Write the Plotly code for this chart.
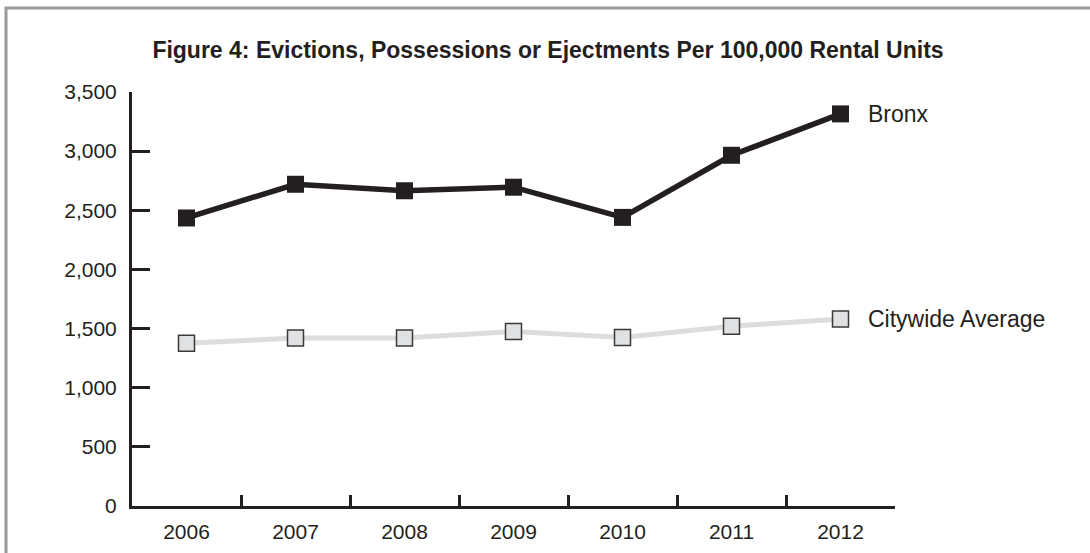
import plotly.graph_objects as go

years = ["2006", "2007", "2008", "2009", "2010", "2011", "2012"]
bronx = [2435, 2720, 2665, 2695, 2440, 2965, 3315]
citywide = [1375, 1420, 1420, 1475, 1425, 1520, 1580]
series_names = ["Bronx", "Citywide Average"]
y_ticks = [0, 500, 1000, 1500, 2000, 2500, 3000, 3500]
y_labels = ["0", "500", "1,000", "1,500", "2,000", "2,500", "3,000", "3,500"]
title_text = "Figure 4: Evictions, Possessions or Ejectments Per 100,000 Rental Units"

INK = "#231f20"
LIGHT = "#dcdddf"
FONT = "Liberation Sans, Arial, sans-serif"

fig = go.Figure()
fig.add_trace(go.Scatter(
    x=years, y=citywide, mode="lines+markers", name=series_names[1],
    line=dict(color=LIGHT, width=5),
    marker=dict(symbol="square", size=16, color="#e0e1e3",
                line=dict(color="#3a3a3a", width=1.5)),
    cliponaxis=False,
))
fig.add_trace(go.Scatter(
    x=years, y=bronx, mode="lines+markers", name=series_names[0],
    line=dict(color=INK, width=5.5),
    marker=dict(symbol="square", size=17, color=INK, line=dict(width=0)),
    cliponaxis=False,
))

last_idx = len(years) - 1
for name, vals in zip(series_names, [bronx, citywide]):
    fig.add_annotation(x=last_idx, y=vals[-1], xref="x", yref="y", text=name,
                       showarrow=False, xanchor="left", yanchor="middle", xshift=25,
                       font=dict(family=FONT, size=23, color=INK))

# outer frame (gray, left and top visible)
fig.add_shape(type="rect", xref="paper", yref="paper",
              x0=(6 - 132) / 763, x1=(1110 - 132) / 763,
              y0=(506 - 570) / 414, y1=(506 - 8) / 414,
              line=dict(color="#999999", width=3), fillcolor="rgba(0,0,0,0)",
              layer="below")

fig.update_layout(
    width=1090, height=553,
    margin=dict(l=132, r=195, t=92, b=47),
    paper_bgcolor="white", plot_bgcolor="white",
    showlegend=False,
    title=dict(text=title_text, x=548 / 1090, xanchor="center",
               y=1 - 50 / 553, yanchor="middle", xref="container", yref="container",
               font=dict(family=FONT, size=23, color=INK, weight="bold")),
    xaxis=dict(type="category", range=[-0.5, 6.5], showgrid=False, zeroline=False,
               automargin=False,
               showline=True, linecolor=INK, linewidth=3,
               ticks="inside", ticklen=11, tickwidth=3, tickcolor=INK,
               tickson="boundaries", ticklabelstandoff=5,
               tickfont=dict(family=FONT, size=21, color=INK)),
    yaxis=dict(range=[0, 3500], showgrid=False, zeroline=False,
               automargin=False,
               showline=True, linecolor=INK, linewidth=3,
               tickvals=y_ticks, ticktext=y_labels,
               ticks="inside", ticklen=18, tickwidth=3, tickcolor=INK,
               ticklabelstandoff=8,
               tickfont=dict(family=FONT, size=21, color=INK)),
)

fig.write_html("out.html")
